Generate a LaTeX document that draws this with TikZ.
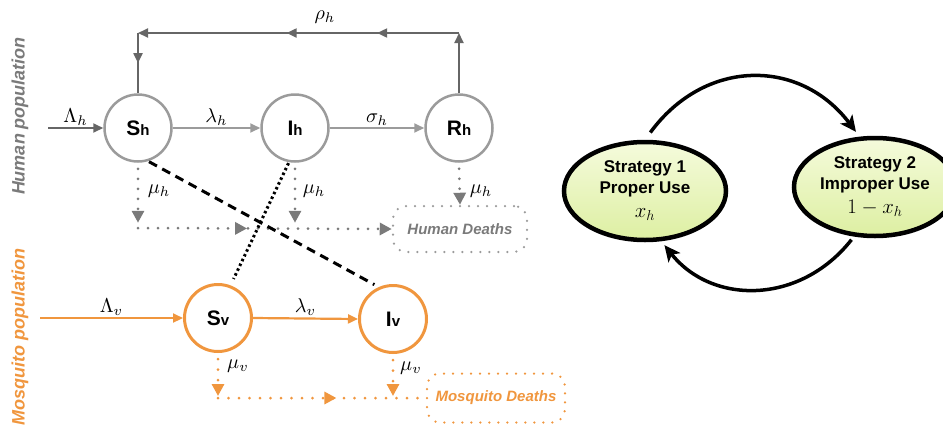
\documentclass[tikz,border=0pt]{standalone}
\usepackage{fontspec}
\setsansfont{Liberation Sans}
\usetikzlibrary{arrows.meta,decorations.markings,shapes.geometric}
\definecolor{hgray}{HTML}{9B9B9B}
\definecolor{hdark}{HTML}{666666}
\definecolor{dgray}{HTML}{7A7A7A}
\definecolor{morange}{HTML}{F0963E}
\definecolor{ellA}{HTML}{F5FBDC}
\definecolor{ellB}{HTML}{DDEFA2}
\newcommand\nodelbl[2]{{\fontsize{21}{24}\selectfont #1}{\fontsize{15}{16}\selectfont #2}}
\newcommand\mlarge[1]{\scalebox{2.0}{$#1$}}
\tikzset{
  marr/.style={postaction={decorate,decoration={markings,mark=at position #1 with {\arrow{Triangle[length=10pt,width=9pt]}}}}},
  darr/.style={postaction={decorate,decoration={markings,mark=at position #1 with {\arrow{Triangle[length=12pt,width=12pt]}}}}},
  tipS/.style={-{Triangle[length=10pt,width=9pt]}},
  tipD/.style={-{Triangle[length=12pt,width=12pt]}},
  hcirc/.style={circle, draw=hgray, line width=2.5pt, minimum size=67pt, inner sep=0pt, font=\sffamily\bfseries},
  mcirc/.style={circle, draw=morange, line width=3pt, minimum size=67pt, inner sep=0pt, font=\sffamily\bfseries},
  hsolid/.style={hgray, line width=2pt},
  hdk/.style={hdark, line width=2pt},
  msolid/.style={morange, line width=2.2pt},
  hdot/.style={dgray, line width=3pt, line cap=round, dash pattern=on 0pt off 10pt},
  mdot/.style={morange, line width=3pt, line cap=round, dash pattern=on 0pt off 10.5pt},
  mlab/.style={text=black, inner sep=1.5pt},
  deathbox/.style={rectangle, rounded corners=13pt, line width=2.5pt, line cap=round, dash pattern=on 0pt off 9pt, font=\sffamily\bfseries\itshape\fontsize{15}{17}\selectfont, inner sep=0pt},
  strat/.style={ellipse, draw=black, line width=4.5pt, top color=ellA, bottom color=ellB, minimum width=162pt, minimum height=98pt, inner sep=0pt, align=center, font=\sffamily\bfseries\fontsize{17}{21}\selectfont},
  bigarc/.style={black, line width=3.5pt, -{Stealth[length=16pt,width=15pt,inset=4pt]}},
  poplab/.style={rotate=90, font=\sffamily\bfseries\itshape\fontsize{18}{20}\selectfont}
}
\begin{document}
\begin{tikzpicture}[x=1pt,y=-1pt]
\useasboundingbox (0,0) rectangle (943,432);

% population labels
\node[poplab, text=dgray] (hpop) at (20,116) {Human population};
\node[poplab, text=morange] (mpop) at (20,337) {Mosquito population};

% human compartments
\node[hcirc] (Sh) at (138,128) {\nodelbl{S}{h}};
\node[hcirc] (Ih) at (295,128) {\nodelbl{I}{h}};
\node[hcirc] (Rh) at (459,128) {\nodelbl{R}{h}};

% mosquito compartments
\node[mcirc] (Sv) at (218,318) {\nodelbl{S}{v}};
\node[mcirc] (Iv) at (393,319) {\nodelbl{I}{v}};

% death boxes
\node[deathbox, draw=hgray, text=dgray, minimum width=134pt, minimum height=46pt] (HD) at (460,229) {Human Deaths};
\node[deathbox, draw=morange, text=morange, minimum width=138pt, minimum height=49pt] (MD) at (496,398) {Mosquito Deaths};

% top recovery loop
\coordinate (tr) at (459,33);
\coordinate (tl) at (138,33);
\draw[hdk, tipS] (Rh.north) -- (tr);
\draw[hdk, marr=0.255, marr=0.537, tipS] (tr) -- (tl);
\draw[hdk, marr=0.5] (tl) -- (Sh.north);
\node[mlab] (rho) at (325,17) {\mlarge{\rho_h}};

% human transitions
\coordinate (lamhs) at (48,128);
\draw[hdk, tipS] (lamhs) -- (Sh.west) node[midway, above, mlab] (Lh) {\mlarge{\Lambda_h}};
\draw[hsolid, tipS] (Sh.east) -- (Ih.west) node[midway, above, mlab] (lh) {\mlarge{\lambda_h}};
\draw[hsolid, tipS] (Ih.east) -- (Rh.west) node[midway, above, mlab] (sh) {\mlarge{\sigma_h}};

% human deaths
\coordinate (hd1) at (138,228);
\draw[hdot, tipD, shorten <=6pt] (Sh.south) -- ++(0,60);
\draw[hdot, tipD, shorten <=6pt] (Ih.south) -- ++(0,60);
\draw[hdot, tipD, shorten <=6pt] (Rh.south) -- (HD.north);
\draw[hdot, darr=0.43, tipD] (hd1) -- (HD.west);
\node[mlab] (mu1) at (159,191) {\mlarge{\mu_h}};
\node[mlab] (mu2) at (314,191) {\mlarge{\mu_h}};
\node[mlab] (mu3) at (481,191) {\mlarge{\mu_h}};

% cross infection lines
\draw[black, line width=3pt, dash pattern=on 9pt off 6pt, shorten <=1pt, shorten >=5pt] (Sh.-73) -- (Iv.114);
\draw[black, line width=3pt, dash pattern=on 2.5pt off 2.8pt, shorten <=1pt, shorten >=7pt] (Ih.-100) -- (Sv.69);

% mosquito transitions
\coordinate (lamvs) at (40,318);
\draw[msolid, tipS] (lamvs) -- (Sv.west) node[midway, above, mlab] (Lv) {\mlarge{\Lambda_v}};
\draw[msolid, tipS] (Sv.east) -- (Iv.west) node[midway, above, mlab] (lv) {\mlarge{\lambda_v}};

% mosquito deaths
\coordinate (md1) at (218,398);
\draw[mdot, tipD, shorten <=6pt] (Sv.south) -- ++(0,43);
\draw[mdot, tipD, shorten <=6pt] (Iv.south) -- ++(0,42);
\draw[mdot, darr=0.57] (md1) -- (MD.west);
\node[mlab] (mv1) at (238,366) {\mlarge{\mu_v}};
\node[mlab] (mv2) at (411,368) {\mlarge{\mu_v}};

% strategies
\node[strat] (S1) at (645,191) {Strategy 1\\Proper Use\\[3pt]{\mdseries\scalebox{1.2}{$x_h$}}};
\node[strat] (S2) at (875,187) {Strategy 2\\Improper Use\\[3pt]{\mdseries\scalebox{1.2}{$1-x_h$}}};
\draw[bigarc, shorten <=9pt, shorten >=6pt] (S1.north) .. controls (705,58) and (800,58) .. (S2.107);
\draw[bigarc, shorten <=4pt, shorten >=5pt] (S2.-113) .. controls (800,305) and (712,305) .. (S1.-72);
\end{tikzpicture}
\end{document}
